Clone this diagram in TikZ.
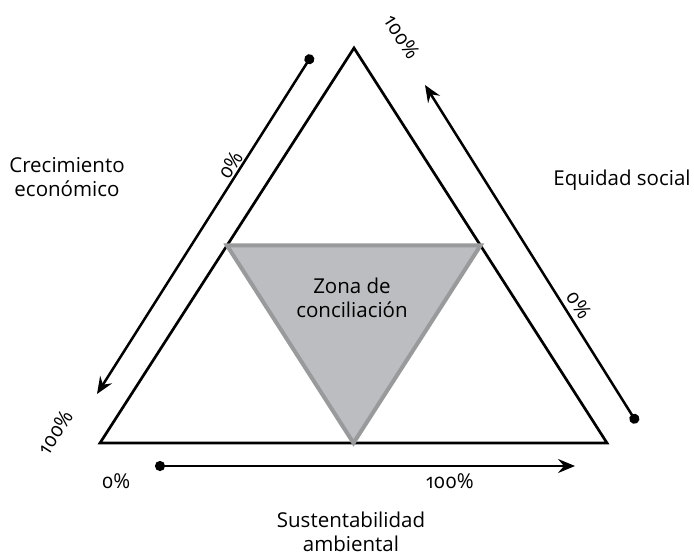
\documentclass[tikz,border=0pt]{standalone}
\usepackage{fontspec}
\setmainfont{Open Sans}[Numbers=OldStyle]
\usetikzlibrary{arrows.meta,calc}
\definecolor{zonefill}{HTML}{BCBDC0}
\definecolor{zonedraw}{HTML}{999A9C}
\begin{document}
\begin{tikzpicture}[x=1pt,y=1pt,
    every node/.style={font=\fontsize{20.5}{23.5}\selectfont, align=center, inner sep=1pt},
    axis/.style={line width=2.5pt, {Circle[length=10pt]}-{Stealth[length=17pt,width=14pt,inset=6pt]}}]
  \useasboundingbox (0,0) rectangle (694,558);
  \coordinate (A) at (354,510);
  \coordinate (L) at (100,115);
  \coordinate (R) at (607,115);
  \draw[line width=2.7pt] (A) -- (L) -- (R) -- cycle;
  % zona de conciliacion
  \filldraw[fill=zonefill, draw=zonedraw, line width=4pt]
    ($(A)!0.5!(L)$) -- ($(A)!0.5!(R)$) -- ($(L)!0.5!(R)$) -- cycle;
  \node (zona) at (352,260) {Zona de\\conciliación};
  % ejes
  \coordinate (ce0) at (312,503);
  \coordinate (ce1) at (97,164);
  \coordinate (es0) at (637,135);
  \coordinate (es1) at (425,473);
  \coordinate (sa0) at (155,92);
  \coordinate (sa1) at (575,92);
  \begin{scope}[axis]
    \draw (ce0) to (ce1);
    \draw (es0) to (es1);
    \draw (sa0) to (sa1);
  \end{scope}
  \node (crec) at (67,381) {Crecimiento\\económico};
  \node (equi) at (622,378) {Equidad social};
  \node (sust) at (351,26) {Sustentabilidad\\ambiental};
  \node[rotate=57.5] (ce0p) at (230,393) {0\%};
  \node[rotate=57.5] (ce1p) at (55,126) {100\%};
  \node[rotate=-57.5] (es0p) at (579,253) {0\%};
  \node[rotate=-57.5] (es1p) at (402,521) {100\%};
  \node (sa0p) at (116,77) {0\%};
  \node (sa1p) at (450,77) {100\%};
\end{tikzpicture}
\end{document}
